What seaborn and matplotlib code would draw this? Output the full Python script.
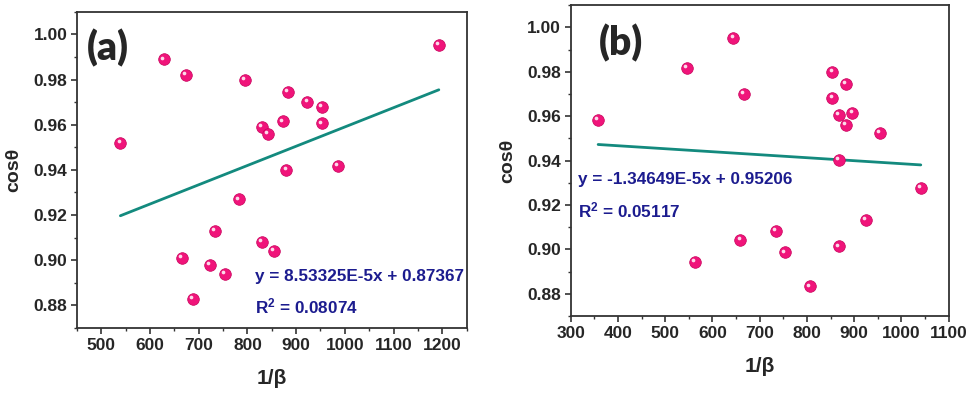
import numpy as np
import pandas as pd
import matplotlib
matplotlib.use("Agg")
import matplotlib.pyplot as plt
import matplotlib.transforms as mtransforms
from matplotlib.ticker import MultipleLocator, FormatStrFormatter
import seaborn as sns

# Panel (a) data
inv_beta_a = [539, 628, 673, 665, 688, 723, 733, 753, 782, 794, 829, 829,
              842, 854, 872, 883, 880, 923, 953, 953, 986, 1193]
cos_a = [0.952, 0.989, 0.982, 0.901, 0.883, 0.898, 0.913, 0.894, 0.927, 0.980, 0.959, 0.908,
         0.956, 0.904, 0.9615, 0.9746, 0.940, 0.970, 0.968, 0.9606, 0.9418, 0.9954]
fit_a = (8.53325e-5, 0.87367)
eq_a = ["y = 8.53325E-5x + 0.87367", r"R$^{2}$ = 0.08074"]

# Panel (b) data
inv_beta_b = [358, 546, 562, 644, 659, 666, 734, 753, 806, 854, 854, 882,
              868, 896, 882, 868, 868, 924, 955, 1041]
cos_b = [0.9584, 0.9819, 0.8944, 0.9954, 0.9044, 0.970, 0.9083, 0.8986, 0.8834, 0.980, 0.9682, 0.9745,
         0.9607, 0.9616, 0.9561, 0.9402, 0.9014, 0.9133, 0.9524, 0.9276]
fit_b = (-1.34649e-5, 0.95206)
eq_b = ["y = -1.34649E-5x + 0.95206", r"R$^{2}$ = 0.05117"]

sns.set_theme(style="ticks")
plt.rcParams['font.family'] = ['Liberation Sans', 'DejaVu Sans']
plt.rcParams['mathtext.fontset'] = 'custom'
plt.rcParams['mathtext.bf'] = 'Liberation Sans:bold'
plt.rcParams['mathtext.rm'] = 'Liberation Sans:bold'
plt.rcParams['mathtext.default'] = 'bf'

fig = plt.figure(figsize=(9.69, 3.95), dpi=100)
ax_a = fig.add_axes([0.0795, 0.170, 0.402, 0.800])
ax_b = fig.add_axes([0.589, 0.200, 0.390, 0.787])

panels = [
    (ax_a, inv_beta_a, cos_a, fit_a, eq_a, "(a)", (450, 1250), (816, 0.8926, 0.8797), (0.025, 0.945), 12),
    (ax_b, inv_beta_b, cos_b, fit_b, eq_b, "(b)", (300, 1100), (316, 0.9314, 0.9176), (0.075, 0.94), 12),
]

for ax, xs, ys, fit, eq, tag, xlim, txt, tagpos, xpad in panels:
    df = pd.DataFrame({"x": xs, "y": ys})
    # fitted line drawn over the data range
    line_x = np.array([min(xs), max(xs)])
    line_df = pd.DataFrame({"x": line_x, "y": np.polyval(fit, line_x)})
    sns.lineplot(data=line_df, x="x", y="y", ax=ax, color="#138a7e", lw=2, zorder=2)
    sns.scatterplot(data=df, x="x", y="y", ax=ax, color="#f0147a", s=70,
                    edgecolor="#c8005a", linewidth=0.5, zorder=3)
    # small highlight to mimic the shaded spheres
    hl = mtransforms.offset_copy(ax.transData, fig=fig, x=-1.2, y=1.2, units="points")
    ax.scatter(df["x"], df["y"], s=7, color="white", alpha=0.85, transform=hl,
               linewidths=0, zorder=4)

    ax.set_xlim(*xlim)
    ax.set_ylim(0.87, 1.01)
    ax.xaxis.set_major_locator(MultipleLocator(100))
    ax.xaxis.set_minor_locator(MultipleLocator(50))
    ax.yaxis.set_major_locator(MultipleLocator(0.02))
    ax.yaxis.set_minor_locator(MultipleLocator(0.01))
    ax.yaxis.set_major_formatter(FormatStrFormatter("%.2f"))
    ax.tick_params(which="major", direction="out", length=4, width=1.2, color="#333333",
                   labelsize=12.5, pad=3)
    ax.tick_params(which="minor", direction="out", length=2.5, width=1.0, color="#333333")
    for lab in ax.get_xticklabels() + ax.get_yticklabels():
        lab.set_fontweight("bold")
    for sp in ax.spines.values():
        sp.set_visible(True)
        sp.set_linewidth(1.3)
        sp.set_color("#333333")

    ax.set_xlabel("1/β", fontsize=15, fontweight="bold", labelpad=xpad)
    ax.set_ylabel("cosθ", fontsize=14, fontweight="bold", labelpad=8)

    ax.text(txt[0], txt[1], eq[0], color="#1c1c8f", fontsize=12.3, fontweight="bold",
            va="center", ha="left")
    ax.text(txt[0], txt[2], eq[1], color="#1c1c8f", fontsize=12.3, fontweight="bold",
            va="center", ha="left")
    ax.text(tagpos[0], tagpos[1], tag, transform=ax.transAxes, fontsize=28,
            fontweight="heavy", family=["Lato", "DejaVu Sans"], va="top", ha="left")

fig.savefig("out.png", dpi=100)
